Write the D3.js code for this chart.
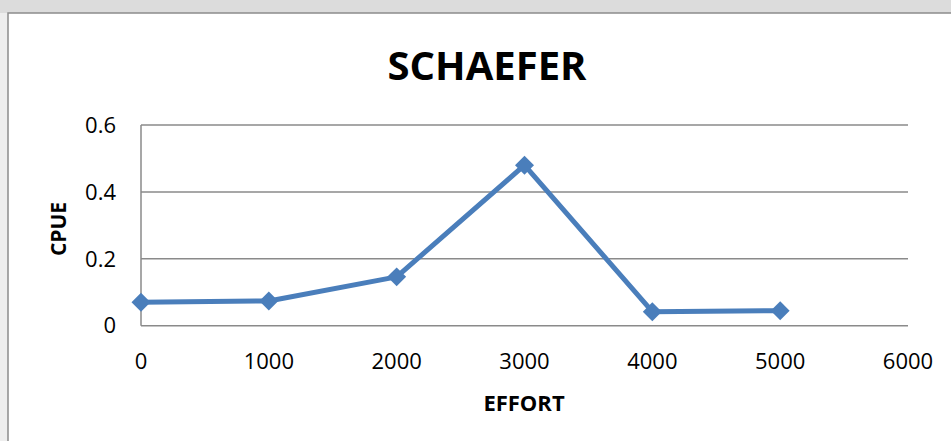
<!DOCTYPE html>
<html>
<head>
<meta charset="utf-8">
<script src="https://cdn.jsdelivr.net/npm/d3@7"></script>
<style>
  html, body { margin: 0; padding: 0; background: #dcdcdc; }
  svg { display: block; }
  text { font-family: "Open Sans", "DejaVu Sans", sans-serif; fill: #000; }
</style>
</head>
<body>
<svg id="chart" width="951" height="441"></svg>
<script>
// effort levels and catch per unit effort
var effort = [0, 1000, 2000, 3000, 4000, 5000];
var cpue = [0.070, 0.074, 0.146, 0.480, 0.042, 0.045];

var xTicks = [0, 1000, 2000, 3000, 4000, 5000, 6000];
var yTicks = [0, 0.2, 0.4, 0.6];

var svg = d3.select('#chart');

// grey page around the chart, lighter strip on the left
svg.append('rect')
    .attr('x', 0).attr('y', 13)
    .attr('width', 8).attr('height', 441)
    .attr('fill', '#eeeeee');

// chart box
svg.append('rect')
    .attr('x', 8).attr('y', 13)
    .attr('width', 960).attr('height', 460)
    .attr('fill', '#fff')
    .attr('stroke', '#8c8c8c')
    .attr('stroke-width', 1.5);

var x = d3.scaleLinear().domain([0, 6000]).range([141, 908]);
var y = d3.scaleLinear().domain([0, 0.6]).range([325.7, 125]);

// horizontal gridlines
svg.append('g')
    .selectAll('line')
    .data(yTicks)
    .enter().append('line')
    .attr('x1', x(0)).attr('x2', x(6000))
    .attr('y1', function(d) { return y(d); })
    .attr('y2', function(d) { return y(d); })
    .attr('stroke', '#8a8a8a')
    .attr('stroke-width', 1.5);

// y axis line
svg.append('line')
    .attr('x1', x(0)).attr('x2', x(0))
    .attr('y1', y(0)).attr('y2', y(0.6))
    .attr('stroke', '#8a8a8a')
    .attr('stroke-width', 1.5);

// y tick labels
svg.append('g')
    .selectAll('text')
    .data(yTicks)
    .enter().append('text')
    .attr('x', 116)
    .attr('y', function(d) { return y(d); })
    .attr('dy', '0.35em')
    .attr('text-anchor', 'end')
    .style('font-size', '22px')
    .text(function(d) { return d === 0 ? '0' : d3.format('.1f')(d); });

// x tick labels
svg.append('g')
    .selectAll('text')
    .data(xTicks)
    .enter().append('text')
    .attr('x', function(d) { return x(d); })
    .attr('y', 369)
    .attr('text-anchor', 'middle')
    .style('font-size', '22px')
    .text(function(d) { return d; });

// title and axis titles
svg.append('text')
    .attr('x', 487).attr('y', 80)
    .attr('text-anchor', 'middle')
    .style('font-size', '40px')
    .style('font-weight', 'bold')
    .text('SCHAEFER');

svg.append('text')
    .attr('x', 524).attr('y', 411)
    .attr('text-anchor', 'middle')
    .style('font-size', '22px')
    .style('font-weight', 'bold')
    .text('EFFORT');

svg.append('text')
    .attr('transform', 'translate(66,229) rotate(-90)')
    .attr('text-anchor', 'middle')
    .style('font-size', '21px')
    .style('font-weight', 'bold')
    .text('CPUE');

// the series
var pts = effort.map(function(e, i) { return [e, cpue[i]]; });

var line = d3.line()
    .x(function(d) { return x(d[0]); })
    .y(function(d) { return y(d[1]); });

svg.append('path')
    .datum(pts)
    .attr('d', line)
    .attr('fill', 'none')
    .attr('stroke', '#4a7ebb')
    .attr('stroke-width', 5)
    .attr('stroke-linejoin', 'round');

var diamond = d3.symbol().type(d3.symbolSquare).size(180);

svg.append('g')
    .selectAll('path')
    .data(pts)
    .enter().append('path')
    .attr('d', diamond)
    .attr('transform', function(d) {
        return 'translate(' + x(d[0]) + ',' + y(d[1]) + ') rotate(45)';
    })
    .attr('fill', '#4a7ebb');
</script>
</body>
</html>
